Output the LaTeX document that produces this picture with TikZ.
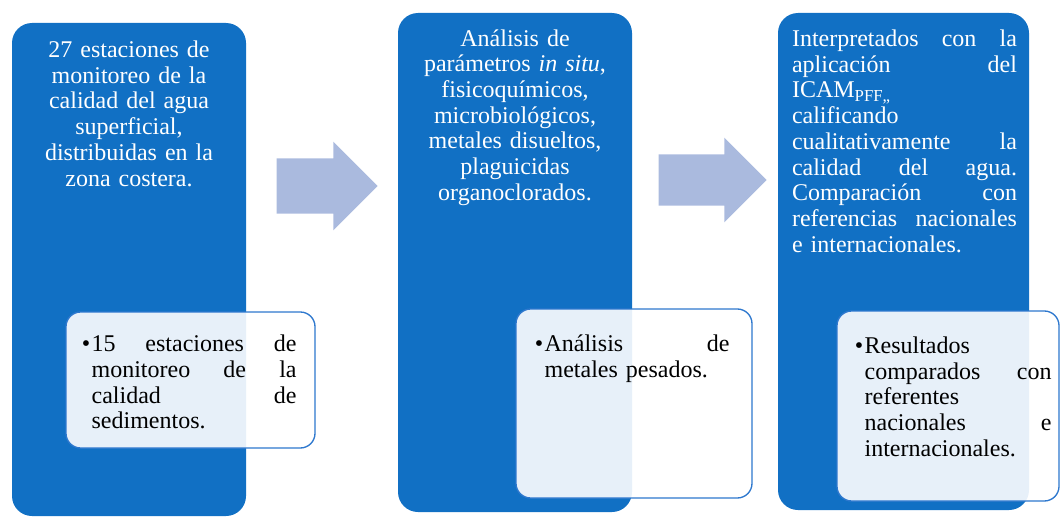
\documentclass[tikz,border=0pt]{standalone}
\usepackage{fontspec}
\setmainfont{Liberation Serif}
\usepackage{xcolor}
\usepackage{tikz}
\usetikzlibrary{positioning,shapes.arrows}
\definecolor{boxblue}{RGB}{17,112,196}
\definecolor{edgeblue}{RGB}{46,120,206}
\definecolor{arrowgray}{RGB}{170,186,222}
\newcommand{\fillline}[2]{\makebox[#1][s]{\spaceskip=0pt\xspaceskip=0pt #2}}

\begin{document}
\begin{tikzpicture}[
    x=0.75pt, y=-0.75pt,
    every node/.style={font=\fontsize{18pt}{19.3pt}\selectfont},
    bluebox/.style={rectangle, rounded corners=15pt, fill=boxblue, draw=none, inner sep=0pt},
    subbox/.style={rectangle, rounded corners=11pt, fill=white, fill opacity=0.9, draw=edgeblue, line width=1pt, inner sep=0pt},
    bluetext/.style={text=white, inner sep=0pt, text width=156pt, align=center, anchor=north},
    sidetext/.style={text=white, inner sep=0pt, text width=168.75pt, align=left, anchor=north west},
    subtext/.style={text=black, inner sep=0pt, align=left, anchor=north west},
    flowarrow/.style={single arrow, fill=arrowgray, draw=none, inner xsep=0pt, single arrow head extend=12.4pt, single arrow tip angle=90, single arrow head indent=0pt, anchor=tip}
]
\useasboundingbox (0,0) rectangle (1060,517);

% --- Main columns ---
\node[bluebox, minimum width=175.5pt, minimum height=369.75pt] (col1) at (129,269.5) {};
\node[bluebox, minimum width=175.5pt, minimum height=374.25pt] (col2) at (515,262.5) {};
\node[bluebox, minimum width=188.25pt, minimum height=372.75pt] (col3) at (903.5,261.5) {};

% --- Arrows between columns ---
\node[flowarrow, inner ysep=20.6pt, minimum height=75.75pt] (arr1) at (378,186) {};
\node[flowarrow, inner ysep=19.1pt, minimum height=81pt] (arr2) at (767,180) {};

% --- Column texts ---
\node[bluetext, below=12.3pt of col1.north] (txt1) {\strut 27 estaciones de\\monitoreo de la\\calidad del agua\\superficial,\\distribuidas en la\\zona costera.};
\node[bluetext, below=11.25pt of col2.north] (txt2) {\strut Análisis de\\parámetros \textit{in situ},\\fisicoquímicos,\\microbiológicos,\\metales disueltos,\\plaguicidas\\organoclorados.};
\node[sidetext] (txt3) at ([xshift=10.5pt, yshift=-11.5pt]col3.north west) {\strut\fillline{168.75pt}{Interpretados con la}\\
    \fillline{168.75pt}{aplicación del}\\
    ICAM\textsubscript{PFF,,}\\
    calificando\\
    \fillline{168.75pt}{cualitativamente la}\\
    \fillline{168.75pt}{calidad del agua.}\\
    \fillline{168.75pt}{Comparación con}\\
    \fillline{168.75pt}{referencias nacionales}\\
    e internacionales.};

% --- Detail boxes (overlapping) ---
\node[subbox, minimum width=186.75pt, minimum height=102pt] (sub1) at (190.5,380) {};
\node[subbox, minimum width=177pt, minimum height=141.75pt] (sub2) at (634,403.5) {};
\node[subbox, minimum width=166.5pt, minimum height=142.5pt] (sub3) at (948,406) {};

\node[subtext, text width=153.75pt] (det1) at ([xshift=19.5pt, yshift=-16.5pt]sub1.north west) {\strut\llap{•\hspace{1pt}}\fillline{153.75pt}{15 estaciones de}\\
    \fillline{153.75pt}{monitoreo de la}\\
    \fillline{153.75pt}{calidad de}\\
    sedimentos.};
\node[subtext, text width=138.75pt] (det2) at ([xshift=21.75pt, yshift=-19pt]sub2.north west) {\strut\llap{•\hspace{1pt}}\fillline{138.75pt}{Análisis de}\\
    metales pesados.};
\node[subtext, text width=140.25pt] (det3) at ([xshift=21pt, yshift=-18.5pt]sub3.north west) {\strut\llap{•\hspace{1pt}}Resultados\\
    \fillline{140.25pt}{comparados con}\\
    referentes\\
    \fillline{140.25pt}{nacionales e}\\
    internacionales.};
\end{tikzpicture}
\end{document}
